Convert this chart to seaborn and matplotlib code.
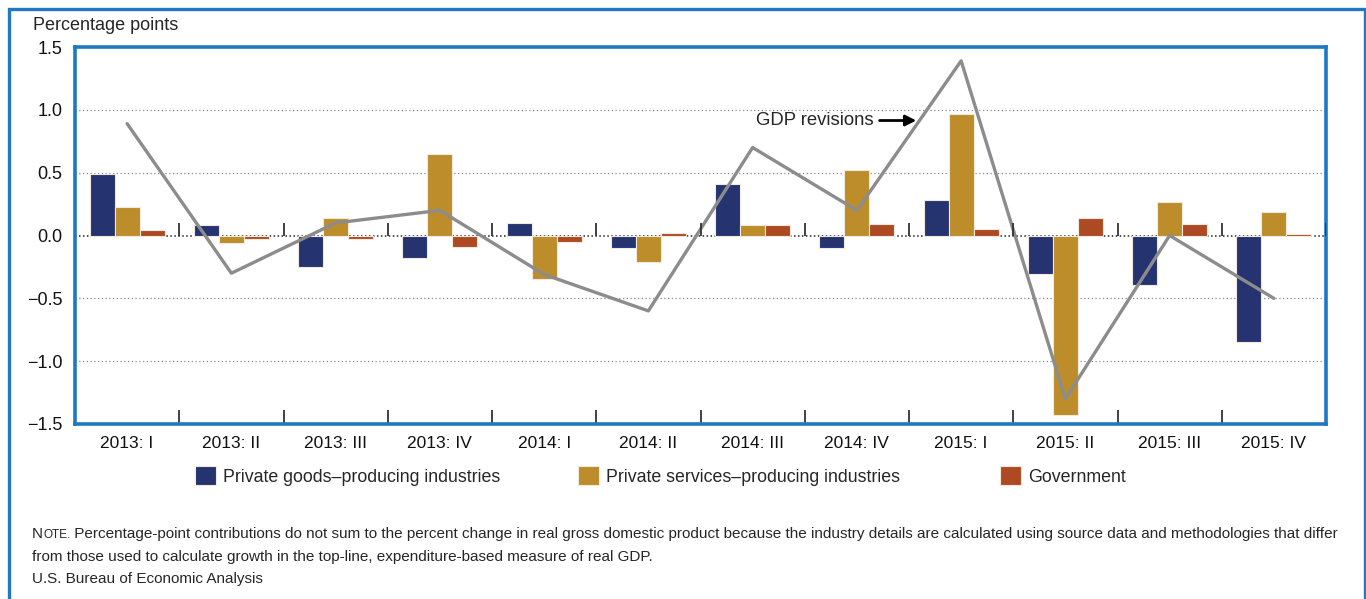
import numpy as np
import pandas as pd
import seaborn as sns
import matplotlib.pyplot as plt
from matplotlib.patches import Rectangle
from matplotlib.ticker import FuncFormatter

quarters = ["2013: I", "2013: II", "2013: III", "2013: IV",
            "2014: I", "2014: II", "2014: III", "2014: IV",
            "2015: I", "2015: II", "2015: III", "2015: IV"]
goods = [0.49, 0.08, -0.25, -0.18, 0.10, -0.10, 0.41, -0.10, 0.28, -0.31, -0.39, -0.85]
services = [0.23, -0.06, 0.14, 0.65, -0.35, -0.21, 0.08, 0.52, 0.97, -1.43, 0.27, 0.19]
government = [0.04, -0.03, -0.03, -0.09, -0.05, 0.02, 0.08, 0.09, 0.05, 0.14, 0.09, 0.01]
gdp_revisions = [0.89, -0.30, 0.10, 0.20, -0.31, -0.60, 0.70, 0.20, 1.39, -1.30, 0.00, -0.50]
series_names = ["Private goods\u2013producing industries",
                "Private services\u2013producing industries",
                "Government"]
y_ticks = [-1.5, -1.0, -0.5, 0.0, 0.5, 1.0, 1.5]

FRAME_BLUE = "#1f78c1"
palette = ["#253370", "#bc8d2a", "#ae4a23"]
W, H = 1366, 599

sns.set_style("white")
plt.rcParams["font.family"] = ["Liberation Sans", "DejaVu Sans"]

df = pd.DataFrame({
    "quarter": quarters * 3,
    "value": goods + services + government,
    "series": np.repeat(series_names, len(quarters)),
})
df_line = pd.DataFrame({"quarter": quarters, "gdp": gdp_revisions})

fig = plt.figure(figsize=(W / 100, H / 100), dpi=100)
ax = fig.add_axes([75 / W, 1 - 424 / H, (1326 - 75) / W, (424 - 47) / H])

sns.barplot(data=df, x="quarter", y="value", hue="series", order=quarters,
            hue_order=series_names, palette=palette, saturation=1, width=0.72,
            edgecolor="#f1e9dc", linewidth=0.8, ax=ax)
sns.pointplot(data=df_line, x="quarter", y="gdp", order=quarters, color="#8c8c8c",
              markers="", linewidth=2.4, errorbar=None, ax=ax)

handles, labels = ax.get_legend_handles_labels()
if ax.get_legend() is not None:
    ax.get_legend().remove()

ax.set_xlim(-0.5, len(quarters) - 0.5)
ax.set_ylim(-1.5, 1.5)
ax.set_yticks(y_ticks)
ax.yaxis.set_major_formatter(FuncFormatter(lambda v, p: f"{v:.1f}".replace("-", "\u2212")))
ax.set_xlabel("")
ax.set_ylabel("")

# dotted grid and darker zero line
for v in y_ticks[1:-1]:
    if v == 0:
        ax.axhline(v, color="#222222", lw=1.1, ls=(0, (1, 1.6)), zorder=0.5)
    else:
        ax.axhline(v, color="#888888", lw=0.9, ls=(0, (1, 2)), zorder=0.5)

# category separators
bounds = np.arange(0.5, len(quarters), 1)
ax.set_xticks(bounds[:-1], minor=True)
ax.tick_params(axis="x", which="major", length=0, pad=9, labelsize=12.5, colors="#111111")
ax.tick_params(axis="x", which="minor", direction="in", length=10, width=1.3,
               color="#333333", bottom=True, top=False)
ax.tick_params(axis="y", length=0, pad=9, labelsize=13, colors="#111111")
ax.vlines(bounds, 0, 0.1, color="#333333", lw=1.3, zorder=3)

for s in ax.spines.values():
    s.set_visible(True)
    s.set_color(FRAME_BLUE)
    s.set_linewidth(2.6)

ax.annotate("GDP revisions", xy=(7.57, 0.915), xytext=(7.16, 0.915),
            ha="right", va="center", fontsize=13.3,
            arrowprops=dict(arrowstyle="-|>", color="black", lw=2,
                            shrinkA=2, shrinkB=0, mutation_scale=16))

fig.text(33 / W, 1 - 25 / H, "Percentage points", fontsize=13, va="center", ha="left")

# legend, one entry at a time to match the spacing
for h, lab, xpos in zip(handles, labels, [195, 578, 1000]):
    fig.legend([h], [lab], loc="center left", bbox_to_anchor=(xpos / W, 1 - 476 / H),
               frameon=False, fontsize=12.8, handlelength=1.2, handleheight=1.2,
               handletextpad=0.4, borderpad=0, borderaxespad=0)

# note
t_n = fig.text(32 / W, 1 - 534 / H, "N", fontsize=11, va="center", ha="left")
t_ote = ax.annotate("OTE.", xy=(1, 0), xycoords=t_n, va="bottom", ha="left", fontsize=8.5)
ax.annotate(" Percentage-point contributions do not sum to the percent change in real gross "
            "domestic product because the industry details are calculated using source data "
            "and methodologies that differ",
            xy=(1, 0), xycoords=t_ote, va="bottom", ha="left", fontsize=11)
fig.text(32 / W, 1 - 557 / H,
         "from those used to calculate growth in the top-line, expenditure-based measure of real GDP.",
         fontsize=11, va="center", ha="left")
fig.text(32 / W, 1 - 579 / H, "U.S. Bureau of Economic Analysis", fontsize=11, va="center", ha="left")

fig.add_artist(Rectangle((9 / W, -0.02), (1365 - 9) / W, 1.02 - 9 / H,
                         transform=fig.transFigure, fill=False,
                         edgecolor=FRAME_BLUE, lw=2.4, clip_on=False))

fig.savefig("out.png", dpi=100)
